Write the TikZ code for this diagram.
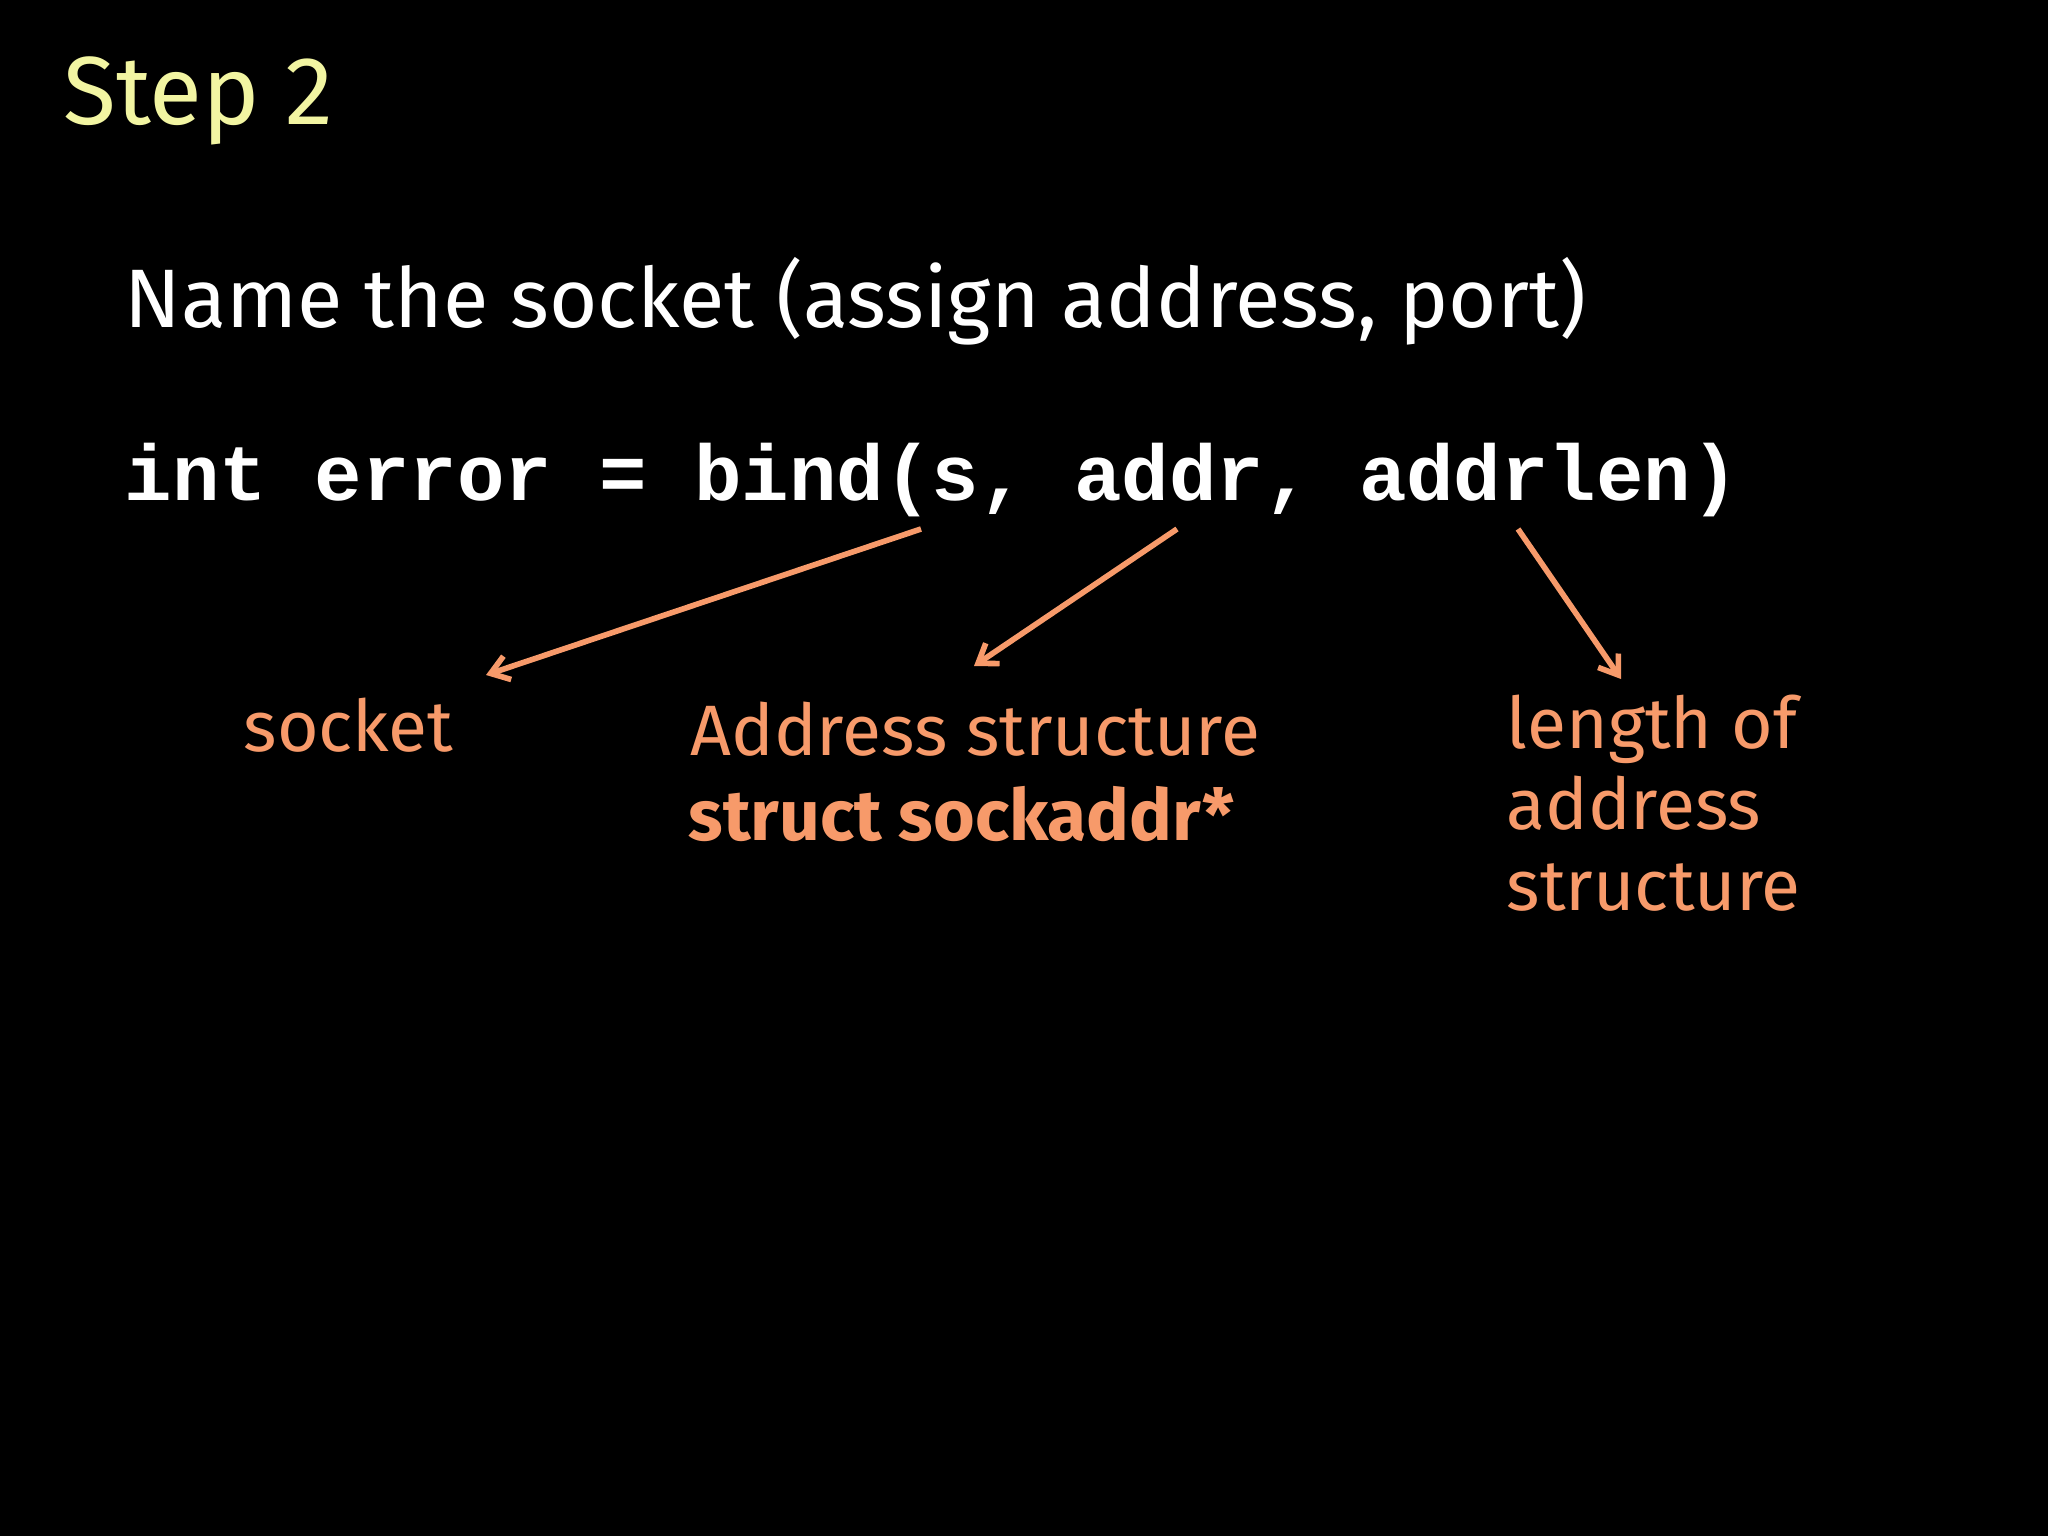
\documentclass[tikz,border=0pt]{standalone}
\usetikzlibrary{arrows.meta}
\usepackage{fontspec}
\setmainfont{Fira Sans}
\newfontfamily\codefont{Liberation Mono}
\definecolor{stepyel}{HTML}{F2F5A2}
\definecolor{lblor}{HTML}{F79A6A}
\begin{document}
\begin{tikzpicture}[x=0.01cm,y=-0.01cm,
  txt/.style={anchor=base west,inner sep=0pt},
  lbl/.style={txt,text=lblor,font=\fontsize{20.3}{23}\selectfont},
  ptr/.style={draw=lblor,line width=1.6pt,-{Straight Barb[length=5pt,width=7pt]}}]
\useasboundingbox[fill=black] (0,0) rectangle (2048,1536);
\node[txt,text=stepyel,font=\fontsize{27.5}{32}\selectfont] (step) at (63,124) {Step 2};
\node[txt,text=white,font=\fontsize{23.6}{28}\selectfont] (name) at (124,327) {Name the socket (assign address, port)};
\node[txt,text=white,font=\codefont\bfseries\fontsize{22.5}{27}\selectfont] (code) at (124,500) {int error = bind(s, addr, addrlen)};
\node[lbl] (sock) at (243,751) {socket};
\node[lbl] (addr) at (690,755) {Address structure};
\node[lbl,font=\bfseries\fontsize{20.3}{23}\selectfont] (sadr) at (688,840) {struct sockaddr*};
\node[lbl] (len1) at (1506,748) {length of};
\node[lbl] (len2) at (1506,829) {address};
\node[lbl] (len3) at (1506,910) {structure};
\coordinate (s1) at (921,529);
\coordinate (s2) at (1177,529);
\coordinate (s3) at (1518,529);
\coordinate (e1) at (486,675);
\coordinate (e2) at (974,666);
\coordinate (e3) at (1621,679);
\draw[ptr] (s1) -- (e1);
\draw[ptr] (s2) -- (e2);
\draw[ptr] (s3) -- (e3);
\end{tikzpicture}
\end{document}
